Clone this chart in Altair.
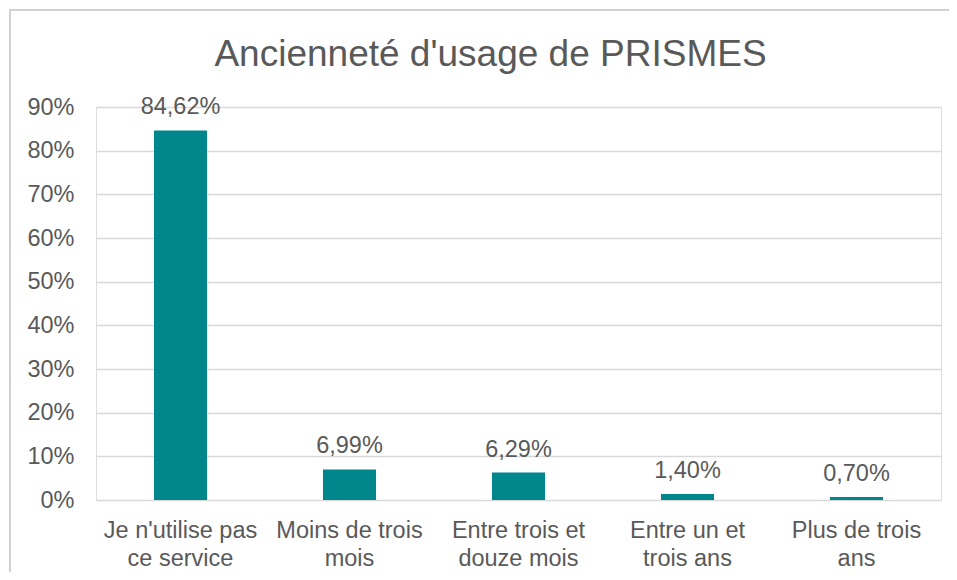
import altair as alt
import pandas as pd

categories = [
    "Je n'utilise pas\nce service",
    "Moins de trois\nmois",
    "Entre trois et\ndouze mois",
    "Entre un et\ntrois ans",
    "Plus de trois\nans",
]
values = [0.8462, 0.0699, 0.0629, 0.0140, 0.0070]
labels = ["84,62%", "6,99%", "6,29%", "1,40%", "0,70%"]

df = pd.DataFrame({"cat": categories, "val": values, "lab": labels})

FONT = "Liberation Sans"
GREY = "#595959"
TEAL = "#00868B"

x_enc = alt.X(
    "cat:N",
    sort=categories,
    title=None,
    scale=alt.Scale(paddingInner=0.686, paddingOuter=0.343),
    axis=alt.Axis(
        labelAngle=0,
        labelExpr="split(datum.label, '\\n')",
        labelFont=FONT,
        labelFontSize=23.5,
        labelColor=GREY,
        labelLineHeight=28,
        labelPadding=18,
        labelBaseline="top",
        ticks=False,
        domain=False,
        grid=False,
    ),
)
y_enc = alt.Y(
    "val:Q",
    title=None,
    scale=alt.Scale(domain=[0, 0.9], nice=False),
    axis=alt.Axis(
        format=".0%",
        values=[0, 0.1, 0.2, 0.3, 0.4, 0.5, 0.6, 0.7, 0.8, 0.9],
        labelFont=FONT,
        labelFontSize=23.5,
        labelColor=GREY,
        labelPadding=22,
        ticks=False,
        domain=False,
        gridColor="#D9D9D9",
        gridWidth=1.5,
    ),
)

base = alt.Chart(df)
bars = base.mark_bar(color=TEAL).encode(x=x_enc, y=y_enc)
text = base.mark_text(
    font=FONT, fontSize=23.5, color=GREY, baseline="alphabetic", dy=-16
).encode(x=alt.X("cat:N", sort=categories), y="val:Q", text="lab:N")

frame = alt.Chart(pd.DataFrame({"f": [0]})).mark_rect(
    fill=None, stroke="#D0D0D0", strokeWidth=2
).encode(
    x=alt.value(-86), x2=alt.value(1200), y=alt.value(-97), y2=alt.value(800)
)

chart = alt.layer(frame, bars, text).properties(
    width=845,
    height=393,
    title=alt.TitleParams(
        "Ancienneté d'usage de PRISMES",
        font=FONT,
        fontSize=37,
        fontWeight="normal",
        color=GREY,
        anchor="middle",
        baseline="alphabetic",
        offset=-94,
        dx=-28,
    ),
    autosize=alt.AutoSizeParams(type="none"),
    padding={"left": 88, "top": 99, "right": 8, "bottom": 72},
).configure_view(stroke=None).configure(background="white")

chart.save("out.html", embed_options={"renderer": "svg", "actions": False})
